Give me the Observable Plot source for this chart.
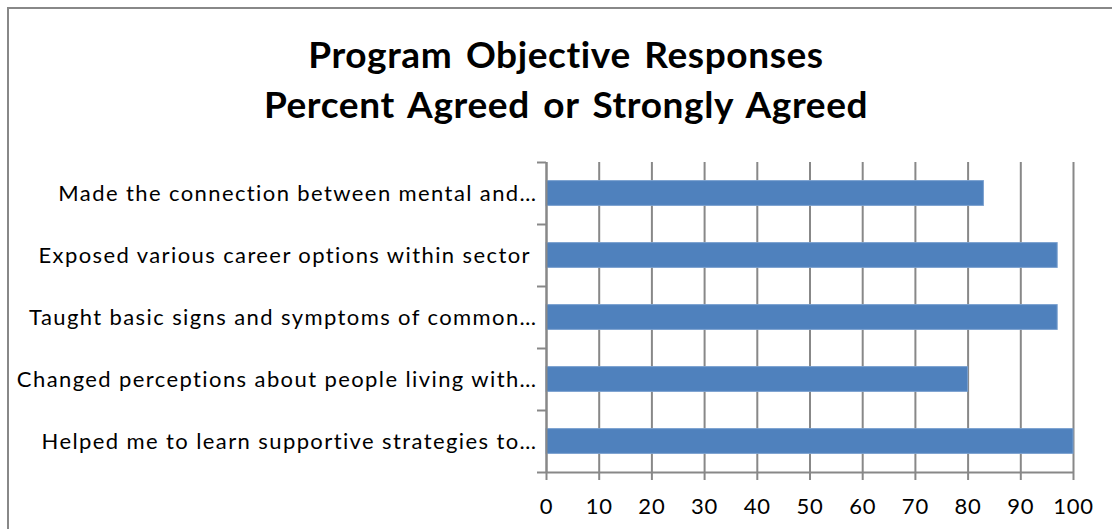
<!DOCTYPE html>
<html>
<head>
<meta charset="utf-8">
<script src="https://cdn.jsdelivr.net/npm/d3@7"></script>
<script src="https://cdn.jsdelivr.net/npm/@observablehq/plot@0.6"></script>
<style>
  html, body { margin: 0; padding: 0; background: #fff; }
  #wrap { position: relative; width: 1112px; height: 529px; overflow: hidden; font-family: Lato, "Open Sans", sans-serif; }
  #border { position: absolute; left: 7px; top: 7px; width: 1200px; height: 600px; border: 2px solid #888; box-sizing: border-box; }
  #title { position: absolute; left: 0; top: 29px; width: 1132px; text-align: center; font-weight: 700; font-size: 37px; letter-spacing: 0.6px; word-spacing: 4px; line-height: 50px; color: #000; }
  #chart { position: absolute; left: 0; top: 0; }
</style>
</head>
<body>
<div id="wrap">
  <div id="border"></div>
  <div id="title">Program Objective Responses<br>Percent Agreed or Strongly Agreed</div>
  <div id="chart"></div>
</div>
<script>
const categories = [
  "Made the connection between mental and…",
  "Exposed various career options within sector\u00a0",
  "Taught basic signs and symptoms of common…",
  "Changed perceptions about people living with…",
  "Helped me to learn supportive strategies to…"
];
const values = [83, 97, 97, 80, 100];
const xTicks = [0, 10, 20, 30, 40, 50, 60, 70, 80, 90, 100];

const data = categories.map((c, i) => ({ category: c, value: values[i], i }));
const boundaries = d3.range(categories.length + 1);
const centers = categories.map((c, i) => i + 0.5);

const chart = Plot.plot({
  width: 1112,
  height: 529,
  marginLeft: 546,
  marginRight: 39,
  marginTop: 162,
  marginBottom: 57,
  style: { fontFamily: "Lato, 'Open Sans', sans-serif", background: "transparent" },
  x: { domain: [0, 100] },
  y: { domain: [0, categories.length], reverse: true },
  marks: [
    Plot.gridX(xTicks, { stroke: "#888", strokeOpacity: 1, strokeWidth: 2 }),
    Plot.rectX(data, {
      x1: 0, x2: "value",
      y1: d => d.i + 0.3, y2: d => d.i + 0.7,
      fill: "#4f81bd", stroke: "#7aa0cf", strokeWidth: 1
    }),
    Plot.ruleX([0], { stroke: "#888", strokeWidth: 2 }),
    Plot.ruleY([categories.length], { stroke: "#888", strokeWidth: 2 }),
    Plot.axisX({ ticks: xTicks, tickSize: 8, tickPadding: 18, stroke: "#888", strokeWidth: 2, fontSize: 22, label: null, color: "#000" }),
    Plot.axisY({ ticks: boundaries, tickSize: 9, tickFormat: () => "", stroke: "#888", strokeWidth: 2, label: null }),
    Plot.axisY({ ticks: centers, tickSize: 0, tickPadding: 9, tickFormat: v => categories[Math.floor(v)], fontSize: 22, label: null, color: "#000" })
  ]
});
chart.querySelectorAll("g[aria-label='y-axis tick label'] text").forEach(t => { t.setAttribute("letter-spacing", "1.4"); t.setAttribute("xml:space", "preserve"); t.style.whiteSpace = "pre"; });
chart.querySelectorAll("g[aria-label='x-axis tick label'] text").forEach(t => t.setAttribute("letter-spacing", "0.8"));
document.getElementById("chart").appendChild(chart);
</script>
</body>
</html>
